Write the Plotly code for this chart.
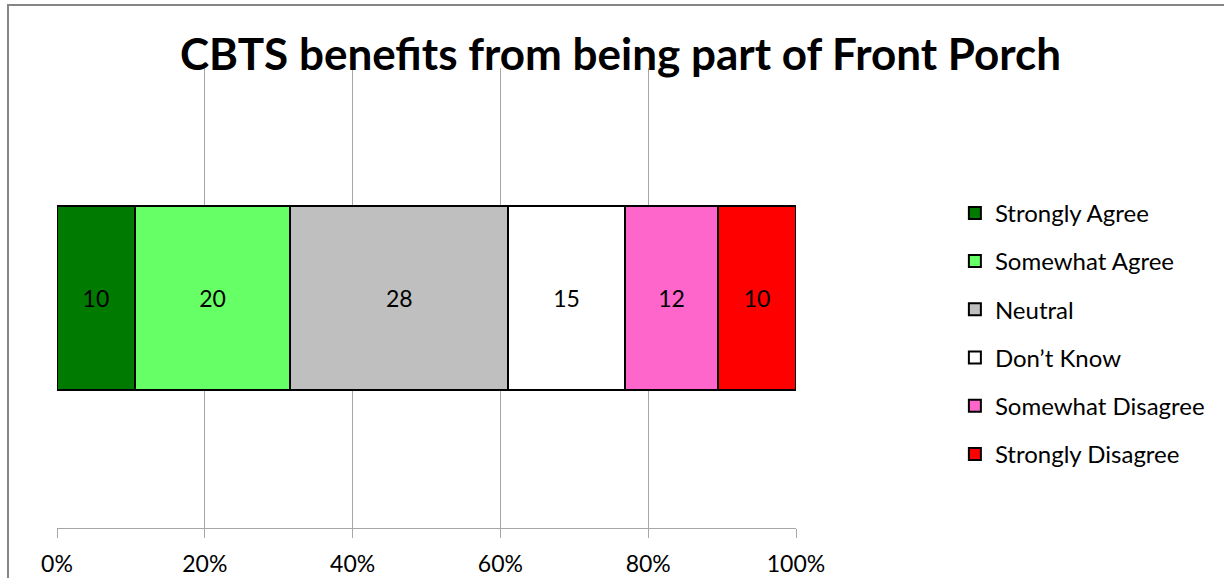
import plotly.graph_objects as go

categories = ["CBTS"]
series_names = ["Strongly Agree", "Somewhat Agree", "Neutral", "Don\u2019t Know",
                "Somewhat Disagree", "Strongly Disagree"]
series_values = [10, 20, 28, 15, 12, 10]
series_colors = ["#007A00", "#66FF66", "#BFBFBF", "#FFFFFF", "#FF66CC", "#FF0000"]
tick_values = [0, 20, 40, 60, 80, 100]
tick_labels = ["0%", "20%", "40%", "60%", "80%", "100%"]
title_text = "CBTS benefits from being part of Front Porch"

FONT = "Lato, Calibri, Carlito, sans-serif"

fig = go.Figure()
for i, (name, val, col) in enumerate(zip(series_names, series_values, series_colors)):
    fig.add_trace(go.Bar(
        y=categories, x=[val], name=name, orientation="h",
        marker=dict(color=col, line=dict(color="#000000", width=2)),
        text=[str(val)], textposition="inside", insidetextanchor="middle",
        textfont=dict(family=FONT, size=23, color="#000000"),
        legendgroup=f"g{i}", width=0.4,
    ))

fig.update_layout(
    barmode="stack", barnorm="percent",
    width=1224, height=578,
    paper_bgcolor="white", plot_bgcolor="white",
    margin=dict(l=57, r=428, t=68, b=50, autoexpand=False),
    font=dict(family=FONT, size=20, color="#000000"),
    title=dict(text=title_text, x=0.507, xref="container", xanchor="center",
               y=0.905, yref="container", yanchor="middle",
               font=dict(family=FONT, size=44, color="#000000", weight="bold")),
    showlegend=True,
    legend=dict(x=1.215, xanchor="left", y=0.733, yanchor="top",
                traceorder="grouped", tracegroupgap=14,
                font=dict(family=FONT, size=24, color="#000000"),
                itemwidth=30, bgcolor="rgba(0,0,0,0)"),
    xaxis=dict(range=[0, 100], tickvals=tick_values, ticktext=tick_labels,
               showgrid=True, gridcolor="#A6A6A6", gridwidth=1,
               showline=True, linecolor="#A6A6A6", linewidth=1,
               ticks="outside", ticklen=9, tickcolor="#A6A6A6",
               ticklabelstandoff=6, automargin=False,
               tickfont=dict(family=FONT, size=23, color="#000000"),
               zeroline=False, fixedrange=True),
    yaxis=dict(showticklabels=False, showgrid=False, zeroline=False,
               showline=False, range=[-0.5, 0.5], fixedrange=True,
               automargin=False),
    shapes=[dict(type="rect", xref="paper", yref="paper",
                 x0=-0.0663, x1=2.0, y0=-1.0, y1=1.137,
                 line=dict(color="#868686", width=2), layer="below")],
)

fig.write_html("out.html")
